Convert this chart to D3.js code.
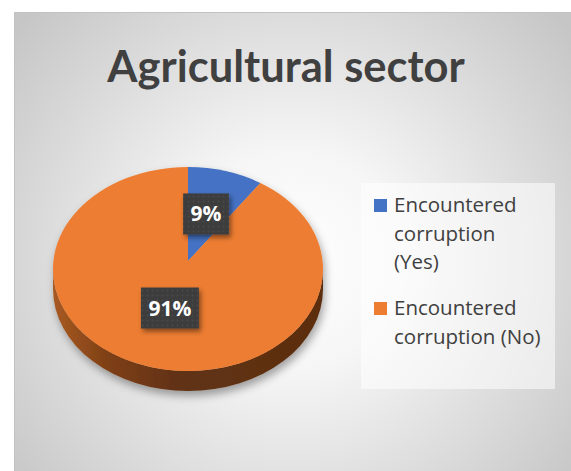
<!DOCTYPE html>
<html>
<head>
<meta charset="utf-8">
<script src="https://cdn.jsdelivr.net/npm/d3@7"></script>
<style>
  html, body { margin: 0; padding: 0; background: #ffffff; }
  svg { display: block; }
</style>
</head>
<body>
<svg id="chart" width="571" height="471"></svg>
<script>
// Survey answers for the agricultural sector
const categories = ["Encountered corruption (Yes)", "Encountered corruption (No)"];
const values = [9, 91];
const sliceColors = ["#4472C4", "#ED7D31"];
const legendLines = [["Encountered", "corruption", "(Yes)"], ["Encountered", "corruption (No)"]];
const titleText = "Agricultural sector";

const W = 571, H = 471;
const svg = d3.select("#chart");
const defs = svg.append("defs");

// ---- background panel ----
const bg = defs.append("radialGradient").attr("id", "bgGrad")
  .attr("gradientUnits", "userSpaceOnUse")
  .attr("cx", 292).attr("cy", 260).attr("r", 360);
bg.append("stop").attr("offset", 0).attr("stop-color", "#ffffff");
bg.append("stop").attr("offset", 0.3).attr("stop-color", "#f6f6f6");
bg.append("stop").attr("offset", 1).attr("stop-color", "#c6c6c6");

svg.append("rect").attr("x", 14.5).attr("y", 12.5).attr("width", W - 14).attr("height", H)
  .attr("fill", "url(#bgGrad)").attr("stroke", "#c2c2c2").attr("stroke-width", 1);

// ---- title ----
svg.append("text")
  .attr("x", 286).attr("y", 82)
  .attr("text-anchor", "middle")
  .attr("font-family", "Lato, 'Open Sans', sans-serif")
  .attr("font-weight", 700)
  .attr("font-size", 43.5)
  .attr("fill", "#404040")
  .text(titleText);

// ---- 3D pie geometry ----
const pie = { cx: 188, cy: 269, rx: 135, ry: 102, depth: 20, apexDy: -8 };
const pieGen = d3.pie().sort(null).value(d => d)(values);
const rim = (a, dy = 0) => [pie.cx + pie.rx * Math.sin(a), pie.cy - pie.ry * Math.cos(a) + dy];
const apex = [pie.cx, pie.cy + pie.apexDy];

// drop shadow under the pie
const shadow = defs.append("filter").attr("id", "pieShadow")
  .attr("x", "-20%").attr("y", "-20%").attr("width", "140%").attr("height", "150%");
shadow.append("feDropShadow").attr("dx", 2).attr("dy", 5).attr("stdDeviation", 4)
  .attr("flood-color", "#000").attr("flood-opacity", 0.35);

// side wall gradient (lit from the left)
const side = defs.append("linearGradient").attr("id", "sideGrad")
  .attr("gradientUnits", "userSpaceOnUse")
  .attr("x1", pie.cx - pie.rx).attr("x2", pie.cx + pie.rx).attr("y1", 0).attr("y2", 0);
[[0, "#a85a22"], [0.2, "#7f4016"], [0.45, "#623213"], [1, "#5b2e10"]]
  .forEach(([o, c]) => side.append("stop").attr("offset", o).attr("stop-color", c));
const sideBlue = defs.append("linearGradient").attr("id", "sideGradBlue")
  .attr("gradientUnits", "userSpaceOnUse")
  .attr("x1", pie.cx - pie.rx).attr("x2", pie.cx + pie.rx).attr("y1", 0).attr("y2", 0);
[[0, "#3a62a8"], [1, "#233f6e"]]
  .forEach(([o, c]) => sideBlue.append("stop").attr("offset", o).attr("stop-color", c));

const g = svg.append("g").attr("filter", "url(#pieShadow)");

// side walls: only the near half (90deg .. 270deg) is visible
const nearStart = Math.PI / 2, nearEnd = Math.PI * 3 / 2;
pieGen.forEach((d, i) => {
  const a0 = Math.max(d.startAngle, nearStart), a1 = Math.min(d.endAngle, nearEnd);
  if (a1 <= a0) return;
  const p0 = rim(a0), p1 = rim(a1), q1 = rim(a1, pie.depth), q0 = rim(a0, pie.depth);
  const large = (a1 - a0) > Math.PI ? 1 : 0;
  const path = `M${p0}A${pie.rx},${pie.ry} 0 ${large} 1 ${p1}L${q1}A${pie.rx},${pie.ry} 0 ${large} 0 ${q0}Z`;
  g.append("path").attr("d", path).attr("fill", i === 0 ? "url(#sideGradBlue)" : "url(#sideGrad)");
});

// top faces
pieGen.forEach((d, i) => {
  const p0 = rim(d.startAngle), p1 = rim(d.endAngle);
  const large = (d.endAngle - d.startAngle) > Math.PI ? 1 : 0;
  const path = `M${apex}L${p0}A${pie.rx},${pie.ry} 0 ${large} 1 ${p1}Z`;
  g.append("path").attr("d", path).attr("fill", sliceColors[i]);
});

// ---- data labels ----
const dots = defs.append("pattern").attr("id", "dots")
  .attr("patternUnits", "userSpaceOnUse").attr("width", 5).attr("height", 5);
dots.append("rect").attr("width", 5).attr("height", 5).attr("fill", "#3d3d3d");
dots.append("circle").attr("cx", 2.5).attr("cy", 2.5).attr("r", 0.9).attr("fill", "#4c4c4c");

const lblShadow = defs.append("filter").attr("id", "lblShadow")
  .attr("x", "-30%").attr("y", "-30%").attr("width", "170%").attr("height", "170%");
lblShadow.append("feDropShadow").attr("dx", 2).attr("dy", 3).attr("stdDeviation", 2.5)
  .attr("flood-color", "#000").attr("flood-opacity", 0.45);

const fmt = d => d3.format(".0%")(d / d3.sum(values));
const labelFrac = 0.48;
pieGen.forEach((d) => {
  const mid = (d.startAngle + d.endAngle) / 2;
  const lx = apex[0] + labelFrac * pie.rx * Math.sin(mid);
  const ly = apex[1] - labelFrac * pie.ry * Math.cos(mid);
  const lg = svg.append("g").attr("transform", `translate(${lx},${ly})`);
  const box = lg.append("rect").attr("fill", "url(#dots)").attr("filter", "url(#lblShadow)");
  const t = lg.append("text")
    .attr("text-anchor", "middle").attr("y", 7.5)
    .attr("font-family", "'Open Sans', Lato, sans-serif")
    .attr("font-weight", 700).attr("font-size", 21)
    .attr("fill", "#ffffff")
    .text(fmt(d.data));
  const tw = t.node().getComputedTextLength();
  const bw = tw + 15, bh = 41;
  box.attr("x", -bw / 2).attr("y", -bh / 2).attr("width", bw).attr("height", bh);
});

// ---- legend ----
svg.append("rect").attr("x", 361).attr("y", 183).attr("width", 194).attr("height", 206)
  .attr("fill", "#ffffff").attr("fill-opacity", 0.55);

const legendTop = [212, 315];
const lineH = 28.5;
categories.forEach((c, i) => {
  const y0 = legendTop[i];
  svg.append("rect").attr("x", 374).attr("y", y0 - 13).attr("width", 13).attr("height", 13)
    .attr("fill", sliceColors[i]);
  const t = svg.append("text")
    .attr("font-family", "'Open Sans', Lato, sans-serif")
    .attr("font-size", 20.5).attr("fill", "#404040");
  legendLines[i].forEach((ln, k) => {
    t.append("tspan").attr("x", 394).attr("y", y0 + k * lineH).text(ln);
  });
});
</script>
</body>
</html>
